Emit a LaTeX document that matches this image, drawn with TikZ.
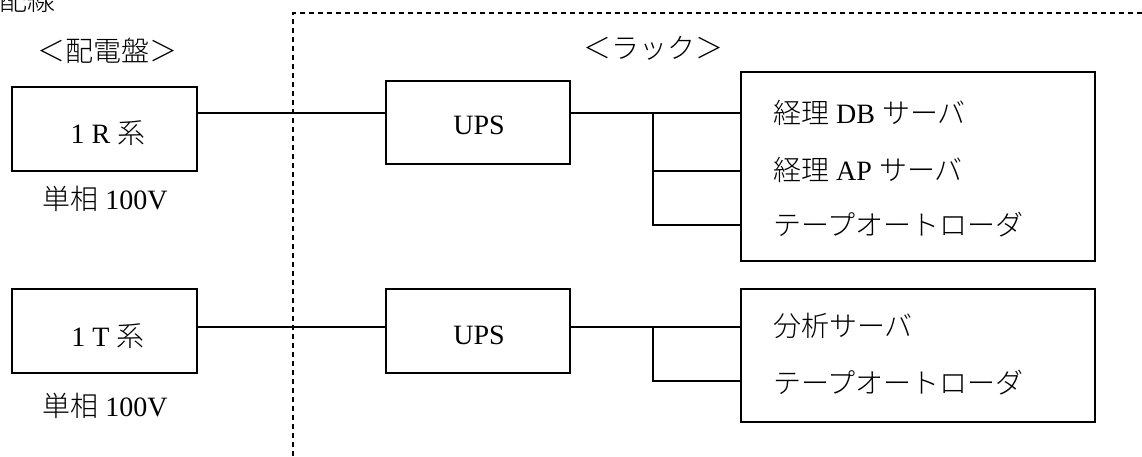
\documentclass[tikz,border=0pt]{standalone}
\usepackage{fontspec}
\setmainfont{Liberation Serif}
\newfontfamily\cjk{Noto Sans CJK JP}[UprightFont={* Light}]
\begin{document}
\begin{tikzpicture}[x=1pt,y=-1pt,
  font=\fontsize{28}{32}\selectfont,
  box/.style={draw, line width=1.4pt, inner sep=0pt},
  wire/.style={line width=1.2pt},
  frame/.style={line width=1.1pt, dash pattern=on 5pt off 4pt},
  lbl/.style={inner sep=0pt, anchor=base},
  item/.style={inner sep=0pt, anchor=base west}]
\useasboundingbox (0,0) rectangle (1142,456);
% dashed rack frame
\coordinate (dA) at (293,456);
\coordinate (dB) at (293,13);
\coordinate (dC) at (1142,13);
\draw[frame] (dA) -- (dB) -- (dC);
% headings
\node[item] (title) at (-1,10) {\cjk 配線};
\node[lbl] (hd1) at (107,61) {\cjk ＜配電盤＞};
\node[lbl] (hd2) at (653,58) {\cjk ＜ラック＞};
% boxes
\node[box, minimum width=185pt, minimum height=84pt] (r1) at (104.5,129) {};
\node[box, minimum width=184pt, minimum height=83pt] (ups1) at (478,122.5) {};
\node[box, minimum width=354pt, minimum height=189pt] (s1) at (918,166.5) {};
\node[box, minimum width=185pt, minimum height=84pt] (t1) at (104.5,331) {};
\node[box, minimum width=184pt, minimum height=84pt] (ups2) at (478,331) {};
\node[box, minimum width=354pt, minimum height=133pt] (s2) at (918,355.5) {};
% texts
\node[lbl] (r1t) at (108,143) {1 R {\cjk 系}};
\node[lbl] (r1v) at (105,209) {{\cjk 単相} 100V};
\node[lbl] (t1t) at (108,346) {1 T {\cjk 系}};
\node[lbl] (t1v) at (105,416) {{\cjk 単相} 100V};
\node[lbl] (u1t) at (479,134) {UPS};
\node[lbl] (u2t) at (479,344) {UPS};
\node[item] (a1) at (773,123) {{\cjk 経理} DB {\cjk サーバ}};
\node[item] (a2) at (773,180) {{\cjk 経理} AP {\cjk サーバ}};
\node[item] (a3) at (773,235) {\cjk テープオートローダ};
\node[item] (b1) at (773,336) {\cjk 分析サーバ};
\node[item] (b2) at (773,393) {\cjk テープオートローダ};
% wiring, upper
\coordinate (j1) at (653,113);
\coordinate (m1) at (653,171);
\coordinate (e1) at (653,225);
\draw[wire] (r1.east |- j1) -- (ups1.west |- j1);
\draw[wire] (ups1.east |- j1) -- (s1.west |- j1);
\draw[wire] (j1) -- (e1) -- (s1.west |- e1);
\draw[wire] (m1) -- (s1.west |- m1);
% wiring, lower
\coordinate (j2) at (653,327);
\coordinate (e2) at (653,381);
\draw[wire] (t1.east |- j2) -- (ups2.west |- j2);
\draw[wire] (ups2.east |- j2) -- (s2.west |- j2);
\draw[wire] (j2) -- (e2) -- (s2.west |- e2);
\end{tikzpicture}
\end{document}
